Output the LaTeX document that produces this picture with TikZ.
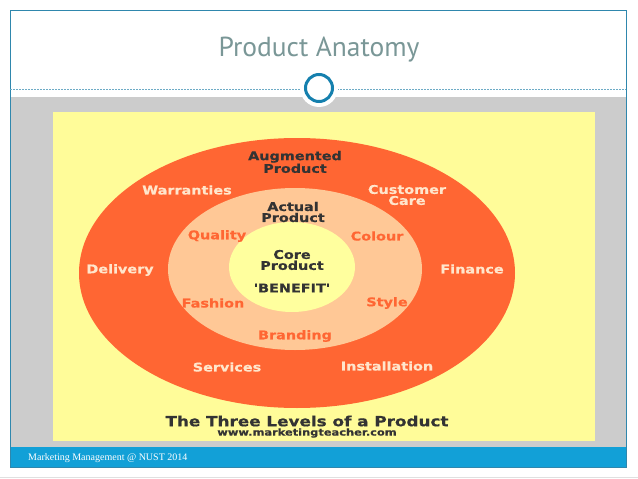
\documentclass[tikz,border=0pt]{standalone}
\usepackage{fontspec}
\usetikzlibrary{shapes.geometric}
\newfontfamily\verd[FakeStretch=1.2,FakeBold=0.6]{DejaVu Sans}
\newfontfamily\titlefont{PT Sans}
\newfontfamily\footfont{Liberation Serif}
\definecolor{ringred}{HTML}{FF6633}
\definecolor{ringpeach}{HTML}{FFC896}
\definecolor{paleyel}{HTML}{FFFC99}
\definecolor{coreyel}{HTML}{FFFF9E}
\definecolor{slideblue}{HTML}{12A0D7}
\definecolor{edgeblue}{HTML}{2F87AD}
\definecolor{knobblue}{HTML}{1580AE}
\definecolor{titlegrey}{HTML}{7A9797}
\definecolor{textdark}{HTML}{333333}
\definecolor{creamy}{HTML}{FFE6CC}
\begin{document}
\begin{tikzpicture}[x=1pt,y=-1pt,
  ring/.style={ellipse,inner sep=0pt,draw=none},
  lbl/.style={font=\verd\bfseries\fontsize{12}{11}\selectfont,align=center,inner sep=0pt},
  outer/.style={lbl,text=creamy},
  inner/.style={lbl,text=ringred},
  dark/.style={lbl,text=textdark}]
  \useasboundingbox (0,0) rectangle (638,479);

  % slide frame
  \fill[white] (0,0) rectangle (638,479);
  \draw[black!12] (0,477) -- (638,477);
  \fill[black!20] (11,97) rectangle (626,447);
  \fill[slideblue] (10,447) rectangle (626,467);
  \draw[edgeblue,line width=0.8pt] (10,10) rectangle (626,467);
  \draw[edgeblue!70,dash pattern=on 2pt off 1pt,line width=0.4pt] (10,89) -- (626,89);
  \node[circle,fill=white,minimum size=38pt,inner sep=0pt] (halo) at (319,88) {};
  \node[circle,draw=knobblue,line width=3pt,fill=white,minimum size=27pt,inner sep=0pt] (knob) at (319,88) {};

  \node[font=\titlefont\fontsize{27.5}{27.5}\selectfont,text=titlegrey] (title) at (319,50) {Product Anatomy};
  \node[anchor=west,inner sep=0pt,font=\footfont\fontsize{10}{10}\selectfont,text=white] (foot) at (28,458) {Marketing Management @ NUST 2014};

  % the picture
  \fill[paleyel] (53,112) rectangle (595,441);
  \node[ring,fill=ringred,minimum width=436pt,minimum height=270pt] (augm) at (297,273) {};
  \node[ring,fill=ringpeach,minimum width=254pt,minimum height=162pt] (actual) at (295,269) {};
  \node[ring,fill=coreyel,minimum width=126pt,minimum height=90pt] (core) at (292,267) {};

  \node[dark] (augmlbl) at (295,162) {Augmented\\Product};
  \node[dark] (actuallbl) at (293,212) {Actual\\Product};
  \node[dark] (corelbl) at (292,260) {Core\\Product};
  \node[dark] (benefit) at (292,288) {'BENEFIT'};

  \node[outer] (warr) at (187,190) {Warranties};
  \node[outer] (care) at (407,195) {Customer\\Care};
  \node[outer] (deliv) at (120,270) {Delivery};
  \node[outer] (fin) at (472,269) {Finance};
  \node[outer] (serv) at (227,367) {Services};
  \node[outer] (inst) at (387,366) {Installation};

  \node[inner] (qual) at (217,236) {Quality};
  \node[inner] (col) at (377,236) {Colour};
  \node[inner] (fash) at (213,303) {Fashion};
  \node[inner] (style) at (387,303) {Style};
  \node[inner] (brand) at (295,336) {Branding};

  \node[dark,font=\verd\bfseries\fontsize{14}{14}\selectfont] (caption) at (307,421) {The Three Levels of a Product};
  \node[dark,font=\verd\bfseries\fontsize{9.5}{9.5}\selectfont] (site) at (307,433) {www.marketingteacher.com};
\end{tikzpicture}
\end{document}
